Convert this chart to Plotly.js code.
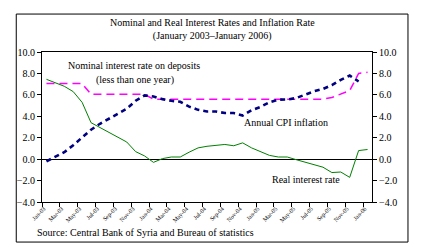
<!DOCTYPE html>
<html>
<head>
<meta charset="utf-8">
<script src="https://cdn.plot.ly/plotly-3.0.1.min.js"></script>
<style>
  body { margin: 0; background: #ffffff; }
  #chart { width: 425px; height: 251px; }
</style>
</head>
<body>
<div id="chart"></div>
<script>
// monthly categories, Jan-03 .. Jan-06
const months = ['Jan-03', 'Feb-03', 'Mar-03', 'Apr-03', 'May-03', 'Jun-03', 'Jul-03', 'Aug-03', 'Sep-03', 'Oct-03', 'Nov-03', 'Dec-03',
    'Jan-04', 'Feb-04', 'Mar-04', 'Apr-04', 'May-04', 'Jun-04', 'Jul-04', 'Aug-04', 'Sep-04', 'Oct-04', 'Nov-04', 'Dec-04',
    'Jan-05', 'Feb-05', 'Mar-05', 'Apr-05', 'May-05', 'Jun-05', 'Jul-05', 'Aug-05', 'Sep-05', 'Oct-05', 'Nov-05', 'Dec-05',
    'Jan-06'];

const nominalRate = [7.05, 7.05, 7.05, 7.05, 7.05, 6.05, 6.05, 6.05, 6.05, 6.05, 6.05, 6.05,
    5.6, 5.6, 5.6, 5.6, 5.6, 5.6, 5.6, 5.6, 5.6, 5.6, 5.6, 5.6,
    5.6, 5.6, 5.6, 5.6, 5.6, 5.6, 5.6, 5.6, 5.75, 6.05, 6.4, 8.0,
    8.1];

const cpiInflation = [-0.2, 0.2, 0.65, 1.3, 2.05, 2.75, 3.3, 3.75, 4.25, 4.7, 5.45, 5.95,
    5.85, 5.6, 5.45, 5.35, 4.9, 4.6, 4.45, 4.45, 4.3, 4.3, 4.07, 4.57,
    4.88, 5.3, 5.55, 5.57, 5.7, 6.0, 6.33, 6.55, 6.9, 7.4, 7.8, 7.25];

const realRate = [7.45, 7.1, 6.8, 6.3, 5.3, 3.4, 2.95, 2.5, 2.0, 1.6, 0.7, 0.3,
    -0.3, 0.05, 0.2, 0.2, 0.65, 1.05, 1.2, 1.25, 1.37, 1.25, 1.52, 1.05,
    0.7, 0.35, 0.2, 0.2, -0.05, -0.3, -0.5, -0.75, -1.25, -1.2, -1.7, 0.8,
    0.9];

const yTicks = [-4, -2, 0, 2, 4, 6, 8, 10];

const serif = 'Times New Roman, Liberation Serif, serif';
const idx = arr => arr.map((_, i) => i);

// labels every second month, tick marks on the category boundaries
const labelVals = [], labelText = [], boundaryVals = [];
for (let i = 0; i < months.length; i += 2) {
    labelVals.push(i - 0.3);
    labelText.push(months[i]);
    boundaryVals.push(i - 0.5);
}

const traceNominal = {
    x: idx(nominalRate),
    y: nominalRate,
    mode: 'lines',
    name: 'Nominal interest rate on deposits',
    line: {color: '#FF00FF', width: 1.5, dash: '8px,5px'}
};

const traceCpi = {
    x: idx(cpiInflation),
    y: cpiInflation,
    mode: 'lines',
    name: 'Annual CPI inflation',
    line: {color: '#000080', width: 2.6, dash: '5px,4px'}
};

const traceReal = {
    x: idx(realRate),
    y: realRate,
    yaxis: 'y2',
    mode: 'lines',
    name: 'Real interest rate',
    line: {color: '#008000', width: 1}
};

const yCommon = {
    range: [-4, 10],
    tickvals: yTicks,
    tickformat: '.1f',
    ticks: 'outside',
    ticklen: 4,
    tickcolor: '#000',
    showline: true,
    linecolor: '#000',
    linewidth: 1,
    showgrid: false,
    fixedrange: true,
    tickfont: {family: serif, size: 10, color: '#000'}
};

function note(text, x, y) {
    return {text: text, xref: 'paper', yref: 'paper', x: x, y: y,
            xanchor: 'center', yanchor: 'middle', showarrow: false,
            font: {family: serif, size: 10, color: '#000'}};
}

const layout = {
    width: 425,
    height: 251,
    margin: {l: 42, r: 53, t: 52, b: 49},
    paper_bgcolor: '#ffffff',
    plot_bgcolor: '#ffffff',
    showlegend: false,
    title: {
        text: 'Nominal and Real Interest Rates and Inflation Rate<br>(January 2003\u2013January 2006)',
        font: {family: serif, size: 10, color: '#000'},
        xref: 'paper', x: 0.516, xanchor: 'center',
        yref: 'container', y: 0.898, yanchor: 'middle'
    },
    xaxis: {
        range: [-0.5, months.length - 0.5],
        tickvals: labelVals,
        ticktext: labelText,
        tickangle: -45,
        ticks: '',
        tickfont: {family: serif, size: 6, color: '#000'},
        minor: {tickvals: boundaryVals, ticks: 'outside', ticklen: 4, tickcolor: '#000'},
        showline: true,
        mirror: true,
        linecolor: '#000',
        linewidth: 1,
        showgrid: false,
        zeroline: false
    },
    yaxis: Object.assign({}, yCommon, {
        zeroline: true,
        zerolinecolor: '#000',
        zerolinewidth: 1
    }),
    yaxis2: Object.assign({}, yCommon, {
        overlaying: 'y',
        side: 'right',
        zeroline: false
    }),
    annotations: [
        note('Nominal interest rate on deposits', 0.279, 0.907),
        note('(less than one year)', 0.282, 0.813),
        note('Annual CPI inflation', 0.740, 0.531),
        note('Real interest rate', 0.800, 0.147),
        Object.assign(note('Source: Central Bank of Syria and Bureau of statistics', -0.020, -0.205), {xanchor: 'left'})
    ],
    // outer frame round the whole chart
    shapes: [
        {type: 'rect', xref: 'paper', yref: 'paper', x0: -0.078, x1: 1.109, y0: -0.267, y1: 1.253,
         line: {color: '#000', width: 1}, layer: 'below'}
    ]
};

Plotly.newPlot('chart', [traceNominal, traceCpi, traceReal], layout, {staticPlot: true, displayModeBar: false});
</script>
</body>
</html>
